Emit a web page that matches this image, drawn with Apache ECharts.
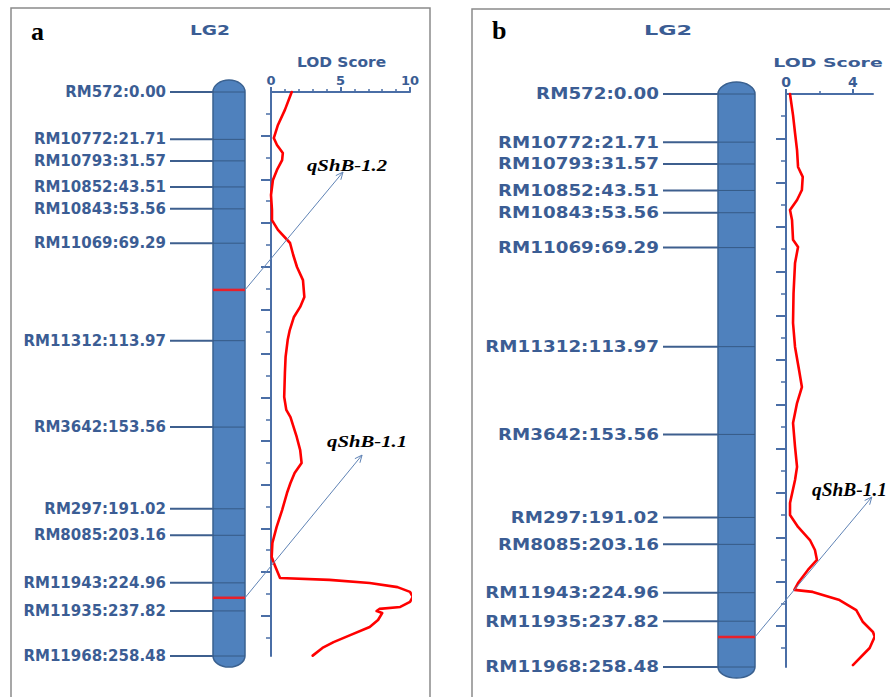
<!DOCTYPE html>
<html>
<head>
<meta charset="utf-8">
<script src="https://cdn.jsdelivr.net/npm/echarts@6/dist/echarts.min.js"></script>
<style>
  html, body { margin: 0; padding: 0; background: #ffffff; }
  #chart { width: 890px; height: 697px; }
</style>
</head>
<body>
<div id="chart"></div>
<script>
// ---- Linkage group 2: marker names and map positions (cM) ----
const markerNames = ['RM572', 'RM10772', 'RM10793', 'RM10852', 'RM10843', 'RM11069',
  'RM11312', 'RM3642', 'RM297', 'RM8085', 'RM11943', 'RM11935', 'RM11968'];
const markerPos = [0.00, 21.71, 31.57, 43.51, 53.56, 69.29,
  113.97, 153.56, 191.02, 203.16, 224.96, 237.82, 258.48];

// ---- LOD profile, panel a (position cM / LOD score) ----
const lodPosA = [0, 8.2, 15.1, 21.1, 24.3, 28.0, 31.2, 35.7, 40.3, 47.2, 54.1, 58.7, 63.2,
  69.2, 74.7, 80.2, 86.2, 94.0, 98.5, 103.1, 109.1, 113.7, 121.4, 128.8, 139.8, 145.7,
  149.0, 158.1, 164.1, 170.0, 174.6, 179.2, 183.8, 191.6, 199.4, 206.7, 213.1, 217.4,
  222.7, 223.6, 225.0, 226.9, 229.1, 231.4, 233.7, 236.0, 236.9, 237.9, 238.8, 242.0,
  245.2, 248.9, 252.1, 254.8, 258.3];
const lodValA = [1.49, 1.0, 0.5, 0.2, 0.43, 0.85, 0.8, 0.43, 0.14, 0.0, 0.07, 0.07, 0.5,
  1.37, 1.6, 1.87, 2.3, 2.4, 2.1, 1.65, 1.35, 1.2, 1.05, 1.0, 0.95, 1.1,
  1.4, 1.85, 2.1, 2.2, 1.7, 1.4, 1.15, 0.8, 0.4, 0.1, 0.05, 0.3,
  0.65, 4.2, 7.1, 9.1, 10.0, 10.2, 10.0, 9.3, 7.8, 7.6, 8.0, 7.7,
  7.1, 5.7, 4.5, 3.7, 3.0];

// ---- LOD profile, panel b (position cM / LOD score) ----
const lodPosB = [0, 9.5, 17.6, 25.3, 32.9, 37.4, 43.3, 47.8, 52.3, 56.8, 65.8, 69.0, 76.2,
  90.0, 103.3, 114.1, 124.5, 132.2, 139.4, 148.4, 159.2, 168.2, 174.1, 184.5, 189.9,
  195.3, 201.2, 205.7, 210.2, 214.7, 220.6, 223.7, 224.6, 228.3, 232.8, 238.2, 242.7,
  244.9, 249.9, 257.6];
const lodValB = [0.24, 0.42, 0.54, 0.66, 0.72, 1.0, 0.95, 0.66, 0.24, 0.36, 0.42, 0.72, 0.54,
  0.45, 0.42, 0.54, 0.78, 0.95, 0.66, 0.42, 0.54, 0.66, 0.54, 0.24, 0.24,
  0.72, 1.43, 1.73, 1.85, 1.31, 0.72, 0.5, 1.6, 3.2, 4.2, 4.6, 5.2,
  5.3, 5.0, 4.0];

// ---- QTL: name, peak position on the map, arrow tip and label anchor as [LOD, cM] ----
const qtlNamesA = ['qShB-1.2', 'qShB-1.1'];
const qtlPosA = [90.7, 231.8];
const qtlTipA = [[5.18, 36.7], [6.55, 166.4]];
const qtlLabelA = [[2.59, 33.5], [4.03, 160.2]];

const qtlNamesB = ['qShB-1.1'];
const qtlPosB = [244.9];
const qtlTipB = [[5.13, 181.8]];
const qtlLabelB = [[1.55, 178.4]];

// ---- Tick values ----
const lodTicksA = [0, 5, 10];
const lodMinorA = [1, 2, 3, 4, 6, 7, 8, 9];
const lodTicksB = [0, 4];
const lodMinorB = [2];
const cmTicks = [20, 40, 60, 80, 100, 120, 140, 160, 180, 200, 220, 240];
const cmMinor = [10, 30, 50, 70, 90, 110, 130, 150, 170, 190, 210, 230, 250];

// ---- Styling ----
const FONT_SANS = '"DejaVu Sans", Verdana, sans-serif';
const FONT_SERIF = '"Liberation Serif", "Times New Roman", serif';
const TEXT_BLUE = '#3b5d94';
const AXIS_BLUE = '#4a6ea6';
const MARK_LINE = '#3e5f8e';
const CHR_FILL = '#4f81bd';
const CHR_EDGE = '#3a6190';
const CHR_INNER = '#365a86';
const QTL_RED = '#e8202a';
const LOD_RED = '#ff0000';
const ARROW = '#5f83b5';
const FRAME = '#8a8a8a';

const panels = [
  {
    chrLeft: 213, chrWidth: 32, lodLeft: 271, lodWidth: 139, top: 92, height: 564,
    lodMax: 10, lineLen: 43, capTop: 12, capBottom: 11, labelSize: 15, labelScale: 1.0,
    tickSize: 13, qtlSize: 17, qtlScale: 1.22,
    lodPos: lodPosA, lodVal: lodValA, lodTicks: lodTicksA, lodMinor: lodMinorA,
    qtlNames: qtlNamesA, qtlPos: qtlPosA, qtlTip: qtlTipA, qtlLabel: qtlLabelA
  },
  {
    chrLeft: 718, chrWidth: 37, lodLeft: 786, lodWidth: 87, top: 94, height: 573,
    lodMax: 5.2, lineLen: 55, capTop: 12, capBottom: 11, labelSize: 15, labelScale: 1.22,
    tickSize: 14, qtlSize: 18, qtlScale: 1.08,
    lodPos: lodPosB, lodVal: lodValB, lodTicks: lodTicksB, lodMinor: lodMinorB,
    qtlNames: qtlNamesB, qtlPos: qtlPosB, qtlTip: qtlTipB, qtlLabel: qtlLabelB
  }
];

const cmMax = markerPos[markerPos.length - 1];
const grid = [], xAxis = [], yAxis = [], series = [];

panels.forEach((p, k) => {
  const gi = k * 2;      // chromosome grid; LOD grid is gi + 1
  const ai = k * 3;      // chromosome axes; LOD major ai + 1, LOD minor ai + 2

  grid.push({ left: p.chrLeft, top: p.top, width: p.chrWidth, height: p.height });
  grid.push({ left: p.lodLeft, top: p.top, width: p.lodWidth, height: p.height });

  // chromosome axes (hidden)
  xAxis.push({ gridIndex: gi, type: 'value', min: 0, max: 1, show: false });
  yAxis.push({ gridIndex: gi, type: 'value', inverse: true, min: 0, max: cmMax, show: false });

  // LOD score axis along the top
  xAxis.push({
    gridIndex: gi + 1, type: 'value', position: 'top', min: 0, max: p.lodMax,
    axisLine: { show: true, onZero: false, lineStyle: { color: AXIS_BLUE, width: 2 } },
    axisTick: { show: true, length: 5, customValues: p.lodTicks, lineStyle: { color: AXIS_BLUE, width: 2 } },
    axisLabel: {
      show: true, customValues: p.lodTicks, margin: 5, color: TEXT_BLUE,
      fontSize: p.tickSize, fontWeight: 'bold', fontFamily: FONT_SANS
    },
    splitLine: { show: false }
  });
  xAxis.push({
    gridIndex: gi + 1, type: 'value', position: 'top', offset: 0, min: 0, max: p.lodMax,
    axisLine: { show: false },
    axisTick: { show: true, length: 3, customValues: p.lodMinor, lineStyle: { color: AXIS_BLUE, width: 1.5 } },
    axisLabel: { show: false },
    splitLine: { show: false }
  });

  // map-position axis beside the LOD profile
  yAxis.push({
    gridIndex: gi + 1, type: 'value', position: 'left', inverse: true, min: 0, max: cmMax,
    axisLine: { show: true, onZero: false, lineStyle: { color: AXIS_BLUE, width: 2 } },
    axisTick: { show: true, length: 10, customValues: cmTicks, lineStyle: { color: AXIS_BLUE, width: 2 } },
    axisLabel: { show: false },
    splitLine: { show: false }
  });
  yAxis.push({
    gridIndex: gi + 1, type: 'value', position: 'left', offset: 0, inverse: true, min: 0, max: cmMax,
    axisLine: { show: false },
    axisTick: { show: true, length: 5, customValues: cmMinor, lineStyle: { color: AXIS_BLUE, width: 1.5 } },
    axisLabel: { show: false },
    splitLine: { show: false }
  });

  // chromosome body with rounded ends
  series.push({
    type: 'custom', xAxisIndex: ai, yAxisIndex: ai, z: 2,
    data: [[0, markerPos[0], cmMax]],
    renderItem(params, api) {
      const cs = params.coordSys;
      const y0 = api.coord([0, api.value(1)])[1];
      const y1 = api.coord([0, api.value(2)])[1];
      const l = cs.x, r = cs.x + cs.width, rx = cs.width / 2;
      return {
        type: 'path',
        shape: {
          pathData: `M${l} ${y0} A${rx} ${p.capTop} 0 0 1 ${r} ${y0} L${r} ${y1} ` +
                    `A${rx} ${p.capBottom} 0 0 1 ${l} ${y1} Z`
        },
        style: { fill: CHR_FILL, stroke: CHR_EDGE, lineWidth: 1.5 }
      };
    }
  });

  // marker ticks and labels
  series.push({
    type: 'custom', xAxisIndex: ai, yAxisIndex: ai, z: 3,
    data: markerPos.map(v => [0, v]),
    renderItem(params, api) {
      const cs = params.coordSys;
      const i = params.dataIndex;
      const y = api.coord([0, api.value(1)])[1];
      const x0 = cs.x - p.lineLen;
      return {
        type: 'group',
        children: [
          { type: 'line', shape: { x1: x0, y1: y, x2: cs.x, y2: y },
            style: { stroke: MARK_LINE, lineWidth: 2 } },
          { type: 'line', shape: { x1: cs.x, y1: y, x2: cs.x + cs.width, y2: y },
            style: { stroke: CHR_INNER, lineWidth: 1 } },
          { type: 'text', x: x0 - 4, y: y, scaleX: p.labelScale,
            style: {
              text: markerNames[i] + ':' + markerPos[i].toFixed(2),
              fill: TEXT_BLUE, fontSize: p.labelSize, fontWeight: 'bold', fontFamily: FONT_SANS,
              align: 'right', textAlign: 'right', verticalAlign: 'middle', textVerticalAlign: 'middle'
            } }
        ]
      };
    }
  });

  // QTL peak bars on the chromosome
  series.push({
    type: 'custom', xAxisIndex: ai, yAxisIndex: ai, z: 4,
    data: p.qtlPos.map(v => [0, v]),
    renderItem(params, api) {
      const cs = params.coordSys;
      const y = api.coord([0, api.value(1)])[1];
      return { type: 'line', shape: { x1: cs.x, y1: y, x2: cs.x + cs.width, y2: y },
               style: { stroke: QTL_RED, lineWidth: 2.5 } };
    }
  });

  // LOD profile
  series.push({
    type: 'line', xAxisIndex: ai + 1, yAxisIndex: ai + 1, z: 5,
    data: p.lodPos.map((pos, i) => [p.lodVal[i], pos]),
    symbol: 'none', clip: false, smooth: false,
    lineStyle: { color: LOD_RED, width: 2.6, join: 'round', cap: 'round' }
  });

  // QTL arrows and names
  series.push({
    type: 'custom', xAxisIndex: ai + 1, yAxisIndex: ai + 1, z: 6,
    data: p.qtlTip.map(t => [t[0], t[1]]),
    renderItem(params, api) {
      const i = params.dataIndex;
      const x0 = p.chrLeft + p.chrWidth;
      const y0 = api.coord([0, p.qtlPos[i]])[1];
      const tip = api.coord([api.value(0), api.value(1)]);
      const lab = api.coord(p.qtlLabel[i]);
      const ang = Math.atan2(tip[1] - y0, tip[0] - x0);
      const L = 8, da = 0.42;
      const h1 = [tip[0] - L * Math.cos(ang - da), tip[1] - L * Math.sin(ang - da)];
      const h2 = [tip[0] - L * Math.cos(ang + da), tip[1] - L * Math.sin(ang + da)];
      return {
        type: 'group',
        children: [
          { type: 'line', shape: { x1: x0, y1: y0, x2: tip[0], y2: tip[1] },
            style: { stroke: ARROW, lineWidth: 1 } },
          { type: 'polyline', shape: { points: [h1, tip, h2] },
            style: { stroke: ARROW, lineWidth: 1, fill: null } },
          { type: 'text', x: lab[0], y: lab[1], scaleX: p.qtlScale,
            style: {
              text: p.qtlNames[i], fill: '#000000', fontSize: p.qtlSize,
              fontWeight: 'bold', fontStyle: 'italic', fontFamily: FONT_SERIF,
              align: 'left', textAlign: 'left', verticalAlign: 'middle', textVerticalAlign: 'middle'
            } }
        ]
      };
    }
  });
});

function label(text, x, y, size, scaleX) {
  return {
    type: 'text', x: x, y: y, scaleX: scaleX, z: 10,
    style: {
      text: text, fill: TEXT_BLUE, fontSize: size, fontWeight: 'bold', fontFamily: FONT_SANS,
      align: 'center', textAlign: 'center', verticalAlign: 'middle', textVerticalAlign: 'middle'
    }
  };
}

const graphic = [
  // panel frames
  { type: 'rect', z: 0, shape: { x: 11, y: 8, width: 419, height: 720 },
    style: { fill: null, stroke: FRAME, lineWidth: 1.5 } },
  { type: 'rect', z: 0, shape: { x: 472, y: 9, width: 430, height: 720 },
    style: { fill: null, stroke: FRAME, lineWidth: 1.5 } },
  // panel letters
  { type: 'text', x: 31, y: 31, z: 10,
    style: { text: 'a', fill: '#000', fontSize: 26, fontWeight: 'bold', fontFamily: FONT_SERIF,
             align: 'left', textAlign: 'left', verticalAlign: 'middle', textVerticalAlign: 'middle' } },
  { type: 'text', x: 492, y: 30, z: 10,
    style: { text: 'b', fill: '#000', fontSize: 26, fontWeight: 'bold', fontFamily: FONT_SERIF,
             align: 'left', textAlign: 'left', verticalAlign: 'middle', textVerticalAlign: 'middle' } },
  // linkage group titles
  label('LG2', 210, 30, 14, 1.33),
  label('LG2', 668, 30, 14, 1.6),
  // LOD axis titles
  label('LOD Score', 341.5, 62, 14, 1.1),
  label('LOD Score', 828, 63, 13, 1.45)
];

const chart = echarts.init(document.getElementById('chart'), null, { renderer: 'svg' });
chart.setOption({
  backgroundColor: '#ffffff',
  animation: false,
  grid: grid,
  xAxis: xAxis,
  yAxis: yAxis,
  series: series,
  graphic: graphic
});
</script>
</body>
</html>
